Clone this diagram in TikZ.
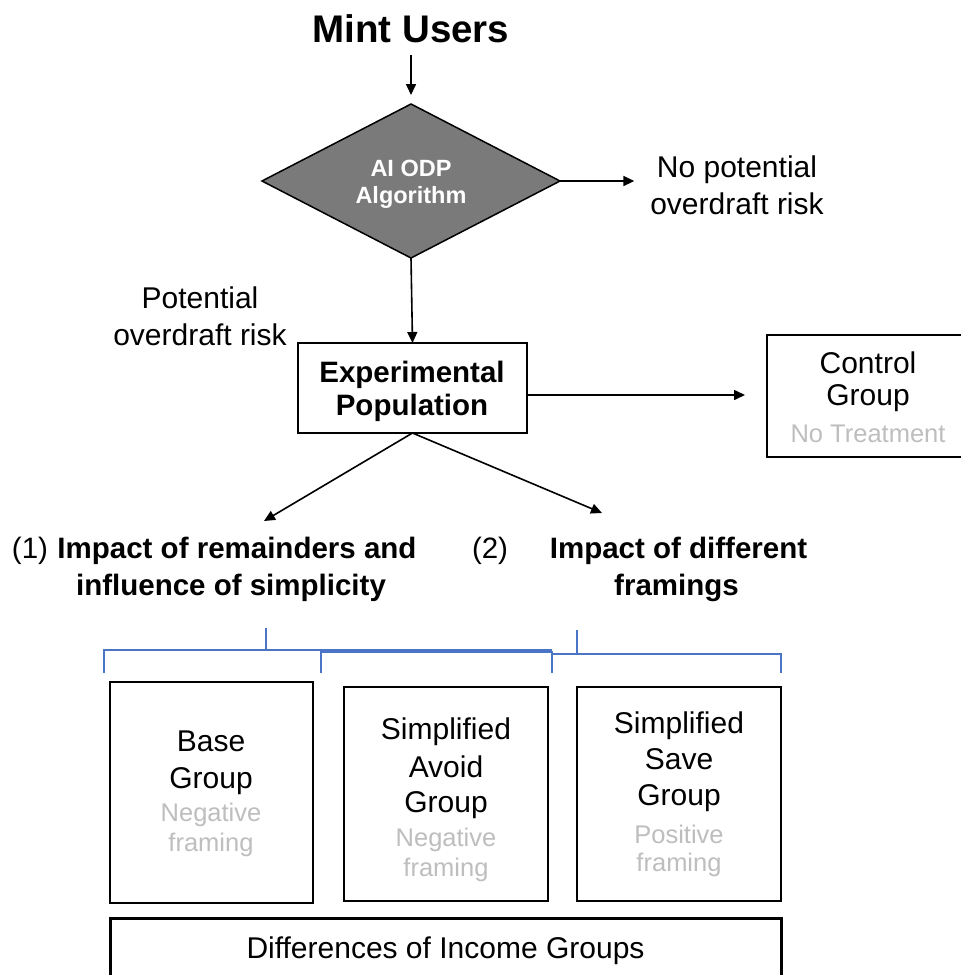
\documentclass[tikz,border=0pt]{standalone}
\usepackage{fontspec}
\setmainfont{Liberation Sans}
\usetikzlibrary{arrows.meta,shapes.geometric}
\definecolor{dgray}{HTML}{7A7A7A}
\definecolor{lgray}{HTML}{BEBEBE}
\definecolor{brk}{HTML}{4A74C6}
\begin{document}
\begin{tikzpicture}[x=1pt,y=-1pt,
  txt/.style={anchor=base, inner sep=0pt, outer sep=0pt, font=\fontsize{30}{36}\selectfont},
  btxt/.style={txt, font=\fontsize{29.5}{36}\selectfont\bfseries},
  gtxt/.style={txt, font=\fontsize{25.5}{30}\selectfont, text=lgray},
  box/.style={draw, line width=2pt, inner sep=0pt, outer sep=0pt, rectangle},
  arr/.style={line width=1.6pt, -{Triangle[length=11pt,width=10pt]}},
  brace/.style={draw=brk, line width=1.3pt}]
\useasboundingbox (0,0) rectangle (961,975);
\clip (0,0) rectangle (961,975);
\fill[white] (0,0) rectangle (961,975);

% top
\node[btxt, font=\fontsize{38.5}{44}\selectfont\bfseries] (mint) at (411,42) {Mint Users};
\node[diamond, draw, line width=1.5pt, fill=dgray, minimum width=298pt, minimum height=154pt, inner sep=0pt, outer sep=0pt] (alg) at (411,181) {};
\node[btxt, font=\fontsize{23.5}{27}\selectfont\bfseries, text=white] (alg1) at (411,176) {AI ODP};
\node[btxt, font=\fontsize{23.5}{27}\selectfont\bfseries, text=white] (alg2) at (411,203) {Algorithm};
\draw[arr, shorten <=13pt, shorten >=9pt] (mint.south) -- (alg.north);

\node[txt] (nopot1) at (737,177) {No potential};
\node[txt] (nopot2) at (737,214) {overdraft risk};
\draw[arr, shorten >=16pt] (alg.east) -- (alg.east -| nopot2.west);

\node[txt] (pot1) at (200,308) {Potential};
\node[txt] (pot2) at (200,345) {overdraft risk};

% experimental population
\node[box, minimum width=229pt, minimum height=90pt] (exp) at (412.5,388) {};
\node[btxt] (exp1) at (412,382) {Experimental};
\node[btxt] (exp2) at (412,415) {Population};
\draw[arr] (alg.south) -- (exp.north);

% control group
\node[box, minimum width=208pt, minimum height=122pt] (ctrl) at (871,396) {};
\node[txt] (ctrl1) at (868,373) {Control};
\node[txt] (ctrl2) at (868,405) {Group};
\node[gtxt] (ctrl3) at (868,442) {No Treatment};
\draw[arr, shorten >=22pt] ([yshift=-7pt]exp.east) -- ([yshift=-7pt]exp.east -| ctrl.west);

% branches
\coordinate (tipL) at (264,521);
\coordinate (tipR) at (602,513);
\draw[arr] (exp.south) -- (tipL);
\draw[arr] (exp.south) -- (tipR);

% headings
\node[txt, anchor=base west, font=\fontsize{29.5}{36}\selectfont] (n1) at (12,558) {(1)};
\node[btxt] (h1a) at (237,558) {Impact of remainders and};
\node[btxt] (h1b) at (231,595) {influence of simplicity};
\node[txt, anchor=base west, font=\fontsize{29.5}{36}\selectfont] (n2) at (472,558) {(2)};
\node[btxt] (h2a) at (678.5,558) {Impact of different};
\node[btxt] (h2b) at (676.5,595) {framings};

% brackets
\draw[brace] (104,673) -- (104,650) -- (552,650);
\draw[brace] (266,628) -- (266,650);
\draw[brace] (321,673) -- (321,652) -- (552,652) -- (552,673);
\draw[brace] (552,654) -- (781,654) -- (781,673);
\draw[brace] (577,630) -- (577,654);

% bottom boxes
\node[box, minimum width=203pt, minimum height=221pt] (base) at (211.5,792.5) {};
\node[txt] (b1) at (211,751) {Base};
\node[txt] (b2) at (211,788) {Group};
\node[gtxt] (b3) at (211,821) {Negative};
\node[gtxt] (b4) at (211,851) {framing};

\node[box, minimum width=204pt, minimum height=214pt] (avoid) at (446,794) {};
\node[txt] (a1) at (446,739) {Simplified};
\node[txt] (a2) at (446,777) {Avoid};
\node[txt] (a3) at (446,812) {Group};
\node[gtxt] (a4) at (446,846) {Negative};
\node[gtxt] (a5) at (446,876) {framing};

\node[box, minimum width=204pt, minimum height=214pt] (save) at (679,794) {};
\node[txt] (s1) at (679,733) {Simplified};
\node[txt] (s2) at (679,769) {Save};
\node[txt] (s3) at (679,805) {Group};
\node[gtxt] (s4) at (679,843) {Positive};
\node[gtxt] (s5) at (679,871) {framing};

\node[box, line width=3pt, minimum width=671pt, minimum height=77pt] (diff) at (445.5,956.5) {};
\node[txt] (d1) at (445.5,958) {Differences of Income Groups};
\end{tikzpicture}
\end{document}
